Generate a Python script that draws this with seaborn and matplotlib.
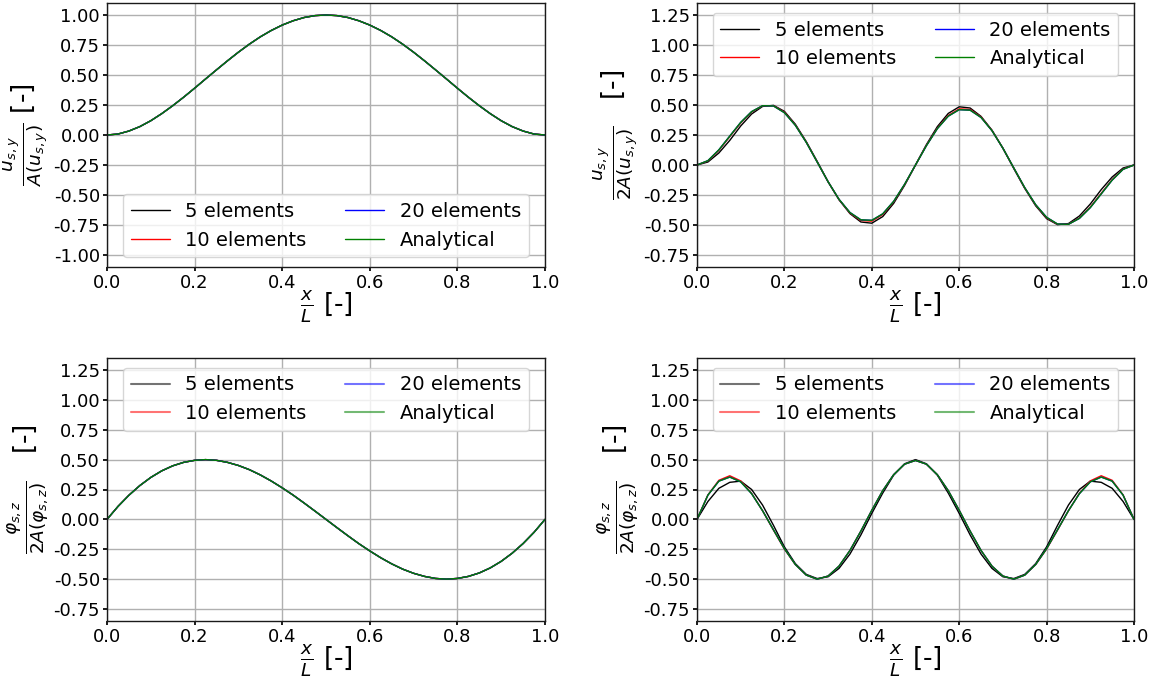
import numpy as np
import seaborn as sns
import matplotlib
matplotlib.use("Agg")
import matplotlib.pyplot as plt
from matplotlib.lines import Line2D

# normalised position along the beam
x_over_L = [0.000, 0.025, 0.050, 0.075, 0.100, 0.125, 0.150, 0.175, 0.200, 0.225,
            0.250, 0.275, 0.300, 0.325, 0.350, 0.375, 0.400, 0.425, 0.450, 0.475,
            0.500, 0.525, 0.550, 0.575, 0.600, 0.625, 0.650, 0.675, 0.700, 0.725,
            0.750, 0.775, 0.800, 0.825, 0.850, 0.875, 0.900, 0.925, 0.950, 0.975, 1.000]

series_names = ["5 elements", "10 elements", "20 elements", "Analytical"]
series_colors = ["#000000", "#ff0000", "#0000ff", "#008000"]

# top left: u_sy, first mode
uy1_exact = [0.000, 0.008, 0.033, 0.070, 0.119, 0.178, 0.244, 0.315, 0.390, 0.467,
             0.543, 0.618, 0.690, 0.757, 0.818, 0.871, 0.916, 0.952, 0.979, 0.995,
             1.000, 0.995, 0.979, 0.952, 0.916, 0.871, 0.818, 0.757, 0.690, 0.618,
             0.543, 0.467, 0.390, 0.315, 0.244, 0.178, 0.119, 0.070, 0.033, 0.008, 0.000]
uy1_5 = list(uy1_exact)
uy1_10 = list(uy1_exact)
uy1_20 = list(uy1_exact)

# top right: u_sy, higher mode
uy4_exact = [0.000, 0.036, 0.126, 0.241, 0.355, 0.445, 0.494, 0.492, 0.436, 0.331,
             0.189, 0.025, -0.140, -0.286, -0.396, -0.457, -0.461, -0.407, -0.303, -0.161,
             0.000, 0.161, 0.303, 0.407, 0.461, 0.457, 0.396, 0.286, 0.140, -0.025,
             -0.189, -0.331, -0.436, -0.492, -0.494, -0.445, -0.355, -0.241, -0.126, -0.036, 0.000]
uy4_5 = [0.000, 0.025, 0.100, 0.205, 0.325, 0.425, 0.488, 0.497, 0.447, 0.340,
         0.195, 0.030, -0.140, -0.290, -0.405, -0.475, -0.485, -0.430, -0.320, -0.170,
         0.000, 0.170, 0.320, 0.430, 0.485, 0.475, 0.405, 0.290, 0.140, -0.030,
         -0.195, -0.340, -0.447, -0.497, -0.488, -0.425, -0.325, -0.205, -0.100, -0.025, 0.000]
uy4_10 = [0.000, 0.034, 0.122, 0.236, 0.350, 0.442, 0.493, 0.494, 0.440, 0.334,
          0.191, 0.026, -0.140, -0.288, -0.400, -0.463, -0.468, -0.413, -0.307, -0.164,
          0.000, 0.164, 0.307, 0.413, 0.468, 0.463, 0.400, 0.288, 0.140, -0.026,
          -0.191, -0.334, -0.440, -0.494, -0.493, -0.442, -0.350, -0.236, -0.122, -0.034, 0.000]
uy4_20 = list(uy4_exact)

# bottom left: phi_sz, first mode
pz1_exact = [0.000, 0.108, 0.202, 0.283, 0.351, 0.406, 0.448, 0.477, 0.494, 0.500,
             0.494, 0.477, 0.451, 0.416, 0.372, 0.321, 0.264, 0.203, 0.137, 0.069,
             0.000, -0.069, -0.137, -0.203, -0.264, -0.321, -0.372, -0.416, -0.451, -0.477,
             -0.494, -0.500, -0.494, -0.477, -0.448, -0.406, -0.351, -0.283, -0.202, -0.108, 0.000]
pz1_5 = list(pz1_exact)
pz1_10 = list(pz1_exact)
pz1_20 = list(pz1_exact)

# bottom right: phi_sz, higher mode
pz4_exact = [0.000, 0.203, 0.320, 0.354, 0.314, 0.215, 0.073, -0.087, -0.245, -0.377,
             -0.466, -0.500, -0.474, -0.391, -0.260, -0.098, 0.076, 0.240, 0.374, 0.462,
             0.493, 0.462, 0.374, 0.240, 0.076, -0.098, -0.260, -0.391, -0.474, -0.500,
             -0.466, -0.377, -0.245, -0.087, 0.073, 0.215, 0.314, 0.354, 0.320, 0.203, 0.000]
pz4_5 = [0.000, 0.150, 0.260, 0.310, 0.320, 0.250, 0.120, -0.050, -0.230, -0.370,
         -0.460, -0.495, -0.480, -0.410, -0.290, -0.130, 0.050, 0.220, 0.370, 0.465,
         0.500, 0.465, 0.370, 0.220, 0.050, -0.130, -0.290, -0.410, -0.480, -0.495,
         -0.460, -0.370, -0.230, -0.050, 0.120, 0.250, 0.320, 0.310, 0.260, 0.150, 0.000]
pz4_10 = [0.000, 0.205, 0.327, 0.365, 0.322, 0.218, 0.072, -0.090, -0.248, -0.378,
          -0.466, -0.500, -0.474, -0.391, -0.260, -0.098, 0.076, 0.240, 0.374, 0.462,
          0.493, 0.462, 0.374, 0.240, 0.076, -0.098, -0.260, -0.391, -0.474, -0.500,
          -0.466, -0.378, -0.248, -0.090, 0.072, 0.218, 0.322, 0.365, 0.327, 0.205, 0.000]
pz4_20 = list(pz4_exact)

sns.set_theme(style="ticks", rc={
    "axes.edgecolor": "0.1",
    "axes.linewidth": 1.0,
    "grid.color": "#b0b0b0",
    "grid.linewidth": 1.0,
    "xtick.major.size": 3,
    "ytick.major.size": 3,
    "xtick.color": "black",
    "ytick.color": "black",
    "text.color": "black",
    "axes.labelcolor": "black",
})
plt.rcParams["font.family"] = ["DejaVu Sans"]
plt.rcParams["mathtext.fontset"] = "dejavusans"

fig = plt.figure(figsize=(11.57, 6.82), dpi=100)
W, H = 1157, 682
def add_ax(l, t, r, b):
    return fig.add_axes([l / W, 1 - b / H, (r - l) / W, (b - t) / H])

ax_tl = add_ax(107, 3, 545, 267)
ax_tr = add_ax(697, 3, 1134, 267)
ax_bl = add_ax(107, 358, 545, 621)
ax_br = add_ax(697, 358, 1134, 621)

ticks_a = [-1, -0.75, -0.5, -0.25, 0, 0.25, 0.5, 0.75, 1.0]
ticks_b = [-0.75, -0.5, -0.25, 0, 0.25, 0.5, 0.75, 1.0, 1.25]
panels = [
    (ax_tl, [uy1_5, uy1_10, uy1_20, uy1_exact], r"$\frac{u_{s,y}}{A(u_{s,y})}$ [-]",
     (-1.1, 1.1), ticks_a, "lower center", False),
    (ax_tr, [uy4_5, uy4_10, uy4_20, uy4_exact], r"$\frac{u_{s,y}}{2A(u_{s,y})}$   [-]",
     (-0.85, 1.35), ticks_b, "upper center", False),
    (ax_bl, [pz1_5, pz1_10, pz1_20, pz1_exact], r"$\frac{\varphi_{s,z}}{2A(\varphi_{s,z})}$   [-]",
     (-0.85, 1.35), ticks_b, "upper center", True),
    (ax_br, [pz4_5, pz4_10, pz4_20, pz4_exact], r"$\frac{\varphi_{s,z}}{2A(\varphi_{s,z})}$   [-]",
     (-0.85, 1.35), ticks_b, "upper center", True),
]

for ax, curves, ylab, ylim, yticks, loc, faded in panels:
    for vals, name, col in zip(curves, series_names, series_colors):
        sns.lineplot(x=x_over_L, y=vals, color=col, lw=1.0, label=name, ax=ax, sort=False)
    ax.set_xlim(0, 1)
    ax.set_ylim(*ylim)
    ax.set_yticks(yticks)
    ax.set_xticks([0, 0.2, 0.4, 0.6, 0.8, 1.0])
    ax.xaxis.set_major_formatter(matplotlib.ticker.FormatStrFormatter("%.1f"))
    ax.yaxis.set_major_formatter(matplotlib.ticker.FormatStrFormatter("%.2f"))
    ax.tick_params(labelsize=13, pad=2)
    ax.grid(True)
    ax.set_xlabel(r"$\frac{x}{L}$ [-]", fontsize=19, labelpad=-3)
    ax.set_ylabel(ylab, fontsize=19, labelpad=2)
    if faded:
        handles = [Line2D([], [], color=c, lw=1.5, alpha=0.55) for c in series_colors]
        ax.legend(handles, series_names, loc=loc, ncol=2, fontsize=14)
    else:
        ax.legend(loc=loc, ncol=2, fontsize=14)

fig.savefig("out.png", dpi=100)
